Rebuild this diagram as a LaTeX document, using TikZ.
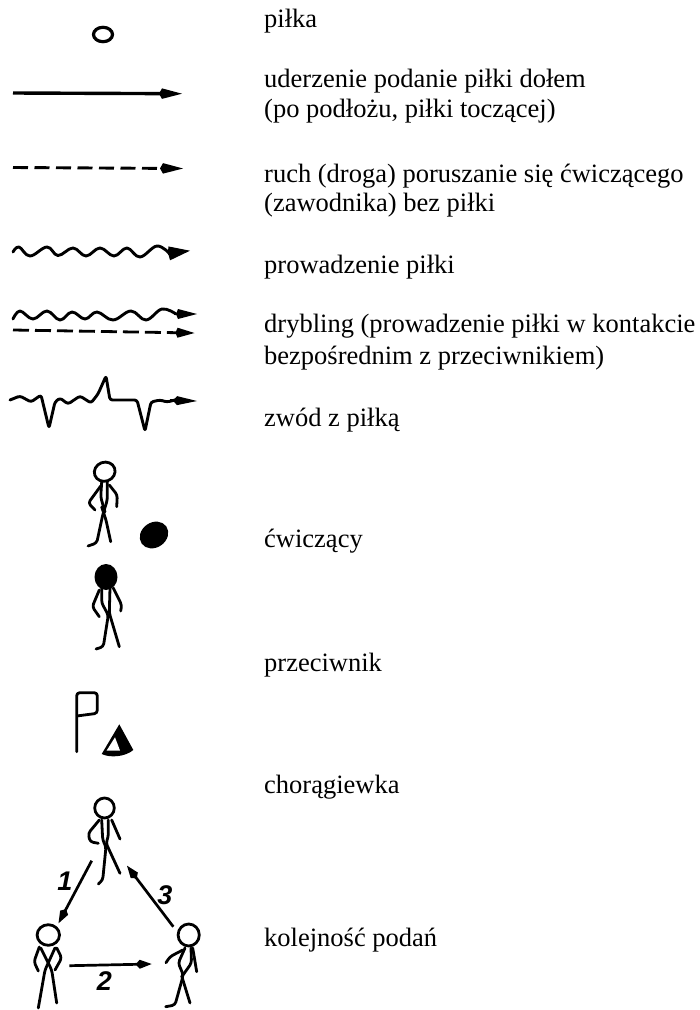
\documentclass[tikz,border=0pt]{standalone}
\usepackage{fontspec}
\setmainfont{Liberation Serif}
\newfontfamily\digitfont{Liberation Sans}
\usetikzlibrary{arrows.meta}
\tikzset{
  legendtext/.style={anchor=base west,inner sep=0pt,font=\fontsize{26.5}{30}\selectfont},
  passno/.style={inner sep=0pt,font=\digitfont\bfseries\itshape\fontsize{27}{30}\selectfont},
  stick/.style={line width=2.8pt,line cap=round,line join=round,rounded corners=3pt},
  passline/.style={line width=2.7pt,-{Kite[length=16pt,width=9pt,inset=4pt]}},
  bigtip/.style={-{Kite[length=23pt,width=10.5pt,inset=3pt]}},
  wavetip/.style={line width=2.8pt,-{Kite[length=22pt,width=14pt,inset=1pt]}},
  waveline/.style={line width=2.9pt,line cap=round,line join=round},
  dashline/.style={line width=2.9pt,bigtip}
}
\newcommand{\legendline}[3]{\node[legendtext] (#1) at (264,#2) {#3};}
\newcommand{\openhead}[5][0]{\draw[stick] (#2,#3) circle[x radius=#4,y radius=#5,rotate=#1];}
\begin{document}
\begin{tikzpicture}[x=1pt,y=-1pt]
\useasboundingbox (0,0) rectangle (700,1010);
% legend texts
\legendline{pilka}{27}{piłka}
\legendline{uderzenie}{87}{uderzenie podanie piłki dołem}
\legendline{podloze}{117}{(po podłożu, piłki toczącej)}
\legendline{ruch}{182}{ruch (droga) poruszanie się ćwiczącego}
\legendline{zawodnik}{211}{(zawodnika) bez piłki}
\legendline{prowadzenie}{273}{prowadzenie piłki}
\legendline{drybling}{332}{drybling (prowadzenie piłki w kontakcie}
\legendline{kontakt}{364}{bezpośrednim z przeciwnikiem)}
\legendline{zwod}{426}{zwód z piłką}
\legendline{cwiczacy}{547}{ćwiczący}
\legendline{przeciwnik}{671}{przeciwnik}
\legendline{choragiewka}{793}{chorągiewka}
\legendline{kolejnosc}{946}{kolejność podań}
% ball
\draw[line width=3.2pt] (103,34.5) circle[x radius=9.5,y radius=7.2];
% pass along the ground
\coordinate (hitA) at (13,93);
\coordinate (hitB) at (182,93.7);
\draw[line width=3.4pt,bigtip] (hitA) -- (hitB);
% run without the ball
\coordinate (runA) at (13,167.5);
\coordinate (runB) at (183,168.5);
\draw[dashline,dash pattern=on 15pt off 6.5pt] (runA) -- (runB);
% dribble
\draw[waveline] plot[smooth,tension=.65] coordinates {(13,252) (19,247) (30,256) (47,247) (58,255.5) (73,248) (86,256) (100,248) (114,256) (127,248) (140,257) (157,246) (170,254)};
\coordinate (waveA) at (168,253.5);
\coordinate (waveB) at (190,250.7);
\draw[wavetip] (waveA) -- (waveB);
% dribble against opponent
\draw[waveline] plot[smooth,tension=.65] coordinates {(13,319) (20,311) (33,319) (47,311) (60,320) (72,312) (85,319) (97,312) (113,320) (131,311) (146,320) (162,309) (176,314)};
\coordinate (dribA) at (174,314);
\coordinate (dribB) at (197,314);
\draw[line width=2.8pt,-{Kite[length=21pt,width=10pt,inset=2pt]}] (dribA) -- (dribB);
\coordinate (dashA) at (13,330);
\coordinate (dashB) at (194.5,333);
\draw[line width=2.8pt,dash pattern=on 16pt off 6pt,-{Kite[length=19pt,width=10pt,inset=2pt]}] (dashA) -- (dashB);
% feint
\draw[waveline,rounded corners=2.5pt] (10,400) -- (20,396) -- (31,402) -- (41,395) -- (49,428) -- (55,402) -- (60,398) -- (68,404) -- (80,396) -- (91,403) -- (98,394) -- (106,376) -- (110,400) -- (125,400) -- (137,400) -- (145,431) -- (151,402) -- (160,400) -- (167,402) -- (175,400);
\coordinate (feintA) at (170,400.5);
\coordinate (feintB) at (197,401);
\draw[line width=2.8pt,-{Kite[length=24pt,width=9pt,inset=4pt]}] (feintA) -- (feintB);
% player with ball
\openhead[20]{104.7}{471.7}{10.5}{9.5}
\draw[stick] (101.7,482) -- (100.7,497) -- (105,512);
\draw[stick] (107.3,482) -- (107.3,500) -- (102.7,515) -- (96.7,543) -- (88,546);
\draw[stick] (101.7,507) -- (106,520) -- (110.7,541.7);
\draw[stick] (100.7,486) -- (88.3,503) -- (95,510);
\draw[stick] (109.3,485) -- (117.3,495) -- (116.7,506.7);
\fill (154,535) circle[x radius=15,y radius=12.5,rotate=35];
% opponent
\fill (106,577) circle[x radius=11.5,y radius=13];
\draw[stick] (101.7,588) -- (101.7,603) -- (108.3,615) -- (103.3,646.7) -- (96,649);
\draw[stick] (110,588) -- (109.3,613) -- (119.3,646.7);
\draw[stick] (99.3,590) -- (92.3,606.7) -- (99.3,616.7);
\draw[stick] (113.3,588) -- (121.7,605) -- (120.7,611);
% flag and cone
\draw[stick] (76.7,751.7) -- (76.7,692.7) -- (97.3,692.7) -- (97.3,713.3) -- (76.7,716);
\fill (119.3,724.3) -- (101.7,754) .. controls (110,758) and (125,757) .. (133.3,750) -- cycle;
\fill[white] (115,737.3) -- (106.7,750.5) -- (120,750.5) -- cycle;
% passing order
\openhead{104.5}{808}{9.8}{10}
\draw[stick] (101.7,820) -- (102.7,840) -- (106,846.7) -- (102.7,880) -- (98.3,884);
\draw[stick] (108.3,820) -- (108.3,836.7) -- (106,843) -- (120,873.3);
\draw[stick] (99.3,820) -- (88.3,833.3) -- (90,841.7) -- (98.3,843.3);
\draw[stick] (111.7,820) -- (120,839);
\openhead{48.3}{935}{11.2}{10.3}
\draw[stick] (40.7,948) -- (51.7,970) -- (56.7,1003);
\draw[stick] (55,948) -- (45,970) -- (38.3,1008);
\draw[stick] (39.3,947) -- (34,961.7) -- (38.3,971);
\draw[stick] (56.7,948) -- (61.7,958) -- (55,970);
\openhead{188.7}{935}{10.6}{11}
\draw[stick] (185,948) -- (178.3,963) -- (183.3,975) -- (175,1005) -- (165.7,1006.7);
\draw[stick] (191,948) -- (191.5,963) -- (183,975);
\draw[stick] (181.7,976) -- (190,1003);
\draw[stick] (182.7,950) -- (170,956.7) -- (166,962.7);
\draw[stick] (192.7,948) -- (196.7,971.7);
\coordinate (topfoot) at (91.7,860.7);
\coordinate (leftchest) at (58.5,923.3);
\coordinate (leftarm) at (69.3,965.7);
\coordinate (rightarm) at (151.7,964);
\coordinate (righthead) at (173.3,926.7);
\coordinate (topknee) at (127,865.7);
\draw[passline] (topfoot) -- (leftchest);
\draw[passline] (leftarm) -- (rightarm);
\draw[passline] (righthead) -- (topknee);
\node[passno] (first) at (65,881.7) {1};
\node[passno] (second) at (104.5,980.7) {2};
\node[passno] (third) at (165,895) {3};
\end{tikzpicture}
\end{document}
